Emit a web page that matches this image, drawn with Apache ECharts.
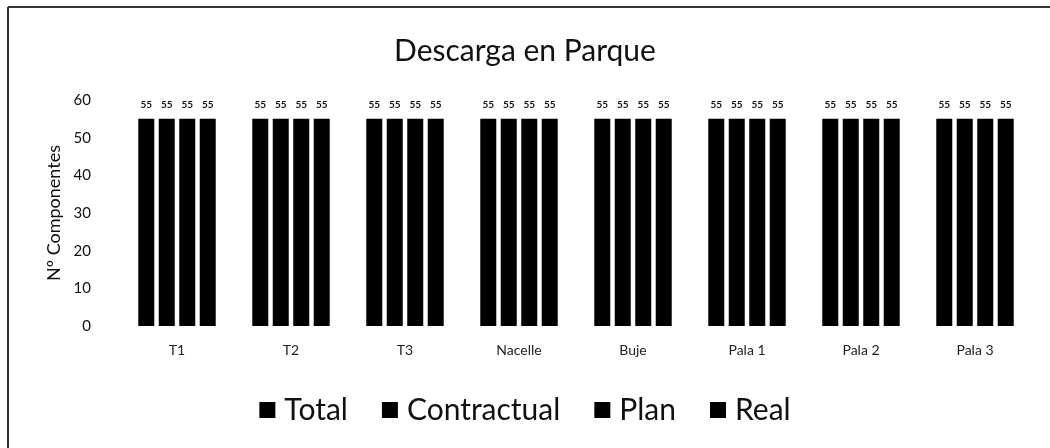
<!DOCTYPE html>
<html>
<head>
<meta charset="utf-8">
<script src="https://cdn.jsdelivr.net/npm/echarts@6/dist/echarts.min.js"></script>
<style>
  html, body { margin: 0; padding: 0; background: #fff; }
  #chart { width: 1050px; height: 448px; }
</style>
</head>
<body>
<div id="chart"></div>
<script>
  // categorias y series
  const categories = ['T1', 'T2', 'T3', 'Nacelle', 'Buje', 'Pala 1', 'Pala 2', 'Pala 3'];
  const seriesNames = ['Total', 'Contractual', 'Plan', 'Real'];
  const totalData = [55, 55, 55, 55, 55, 55, 55, 55];
  const contractualData = [55, 55, 55, 55, 55, 55, 55, 55];
  const planData = [55, 55, 55, 55, 55, 55, 55, 55];
  const realData = [55, 55, 55, 55, 55, 55, 55, 55];
  const yTicks = [0, 10, 20, 30, 40, 50, 60];

  const font = 'Lato, "Open Sans", sans-serif';
  const allData = [totalData, contractualData, planData, realData];

  const chart = echarts.init(document.getElementById('chart'));
  const option = {
    animation: false,
    title: {
      text: 'Descarga en Parque',
      left: 'center',
      top: 31,
      textStyle: { fontFamily: font, fontSize: 30, fontWeight: 'normal', color: '#111' }
    },
    legend: {
      bottom: 18,
      left: 'center',
      itemWidth: 16,
      itemHeight: 16,
      itemGap: 34,
      icon: 'rect',
      data: seriesNames,
      textStyle: { fontFamily: font, fontSize: 30, color: '#111', padding: [0, 0, 0, 4] }
    },
    grid: { left: 120, right: 18, top: 100, bottom: 122 },
    xAxis: {
      type: 'category',
      data: categories,
      axisLine: { show: false },
      axisTick: { show: false },
      axisLabel: { fontFamily: font, fontSize: 14, color: '#222', margin: 17 }
    },
    yAxis: {
      type: 'value',
      min: yTicks[0],
      max: yTicks[yTicks.length - 1],
      interval: 10,
      name: 'Nº Componentes',
      nameLocation: 'middle',
      nameGap: 50,
      nameTextStyle: { fontFamily: font, fontSize: 18, color: '#111' },
      splitLine: { show: false },
      axisLine: { show: false },
      axisTick: { show: false },
      axisLabel: { fontFamily: font, fontSize: 15, color: '#111', margin: 29 }
    },
    graphic: [
      { type: 'line', shape: { x1: 8, y1: 7, x2: 1050, y2: 7 }, style: { stroke: '#333', lineWidth: 2 } },
      { type: 'line', shape: { x1: 8, y1: 7, x2: 8, y2: 448 }, style: { stroke: '#333', lineWidth: 2 } }
    ],
    series: seriesNames.map((name, i) => ({
      name: name,
      type: 'bar',
      data: allData[i],
      barWidth: 16,
      barGap: '28%',
      itemStyle: { color: '#000' },
      label: {
        show: true,
        position: 'top',
        distance: 9,
        fontFamily: font,
        fontSize: 10,
        fontWeight: 'bold',
        color: '#111'
      }
    }))
  };
  chart.setOption(option);
</script>
</body>
</html>
